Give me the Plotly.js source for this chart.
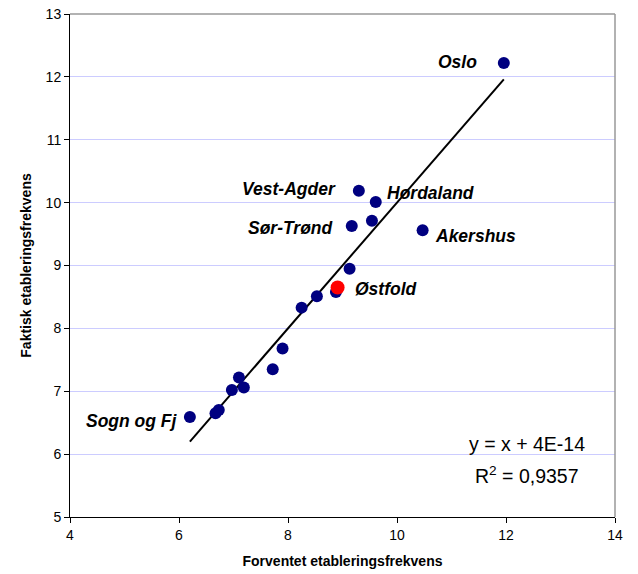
<!DOCTYPE html>
<html>
<head>
<meta charset="utf-8">
<script src="https://cdn.plot.ly/plotly-3.0.1.min.js"></script>
<style>html,body{margin:0;padding:0;background:#fff;}#chart{width:638px;height:574px;}</style>
</head>
<body>
<div id="chart"></div>
<script>
// Expected (x) and actual (y) establishment frequency per county
const expected = [11.96, 9.30, 9.61, 9.17, 9.54, 10.47, 9.13, 8.88, 8.53, 8.25, 7.90, 7.72, 7.10, 7.19, 6.97, 6.73, 6.67, 6.20];
const actual   = [12.22, 10.19, 10.01, 9.63, 9.71, 9.56, 8.95, 8.58, 8.51, 8.33, 7.68, 7.35, 7.22, 7.06, 7.02, 6.70, 6.65, 6.59];
// Highlighted county
const highlightName = "Østfold";
const highlightX = [8.91];
const highlightY = [8.65];
// Trend line: y = x + 4E-14
const slope = 1;
const intercept = 4e-14;
const rSquared = "0,9357";
// Point labels
const labelNames = ["Oslo", "Vest-Agder", "Hordaland", "Sør-Trønd", "Akershus", "Østfold", "Sogn og Fj"];
const labelX =     [11.50, 8.91, 9.78, 8.86, 10.66, 9.19, 6.02];
const labelY =     [12.24, 10.21, 10.16, 9.59, 9.47, 8.62, 6.52];
const labelSide =  ["right", "right", "left", "right", "left", "left", "right"];

const xMin = Math.min(...expected), xMax = Math.max(...expected);
const trendX = [xMin, xMax];
const trendY = trendX.map(v => slope * v + intercept);

const traces = [
  {x: trendX, y: trendY, mode: "lines", line: {color: "#000", width: 2}, hoverinfo: "skip"},
  {x: expected, y: actual, mode: "markers", marker: {color: "#000080", size: 12}},
  {x: highlightX, y: highlightY, mode: "markers", name: highlightName, marker: {color: "#ff0000", size: 14}}
];

const annotations = labelNames.map((t, i) => ({
  x: labelX[i], y: labelY[i], xref: "x", yref: "y", text: "<b><i>" + t + "</i></b>",
  showarrow: false, xanchor: labelSide[i], yanchor: "middle",
  font: {family: "Liberation Sans, Arial, sans-serif", size: 17.5, color: "#000"}
}));
annotations.push({x: 12.39, y: 6.16, xref: "x", yref: "y", showarrow: false,
  text: "y = x + 4E-14", font: {family: "Liberation Sans, Arial, sans-serif", size: 19.5, color: "#000"}});
annotations.push({x: 12.39, y: 5.67, xref: "x", yref: "y", showarrow: false,
  text: "R<sup>2</sup> = " + rSquared, font: {family: "Liberation Sans, Arial, sans-serif", size: 19.5, color: "#000"}});

const layout = {
  width: 638, height: 574,
  margin: {l: 70, r: 23, t: 14, b: 57},
  paper_bgcolor: "#fff", plot_bgcolor: "#fff",
  showlegend: false,
  font: {family: "Liberation Sans, Arial, sans-serif", size: 14, color: "#000"},
  xaxis: {
    range: [4, 14], dtick: 2, tick0: 4, showgrid: false, zeroline: false,
    showline: true, linecolor: "#000", linewidth: 1, mirror: false,
    ticks: "outside", ticklen: 5, tickcolor: "#000",
    tickfont: {size: 14},
    title: {text: "<b>Forventet etableringsfrekvens</b>", font: {size: 14}, standoff: 14}
  },
  yaxis: {
    range: [5, 13], dtick: 1, tick0: 5, showgrid: true, gridcolor: "#ccccff", gridwidth: 1, zeroline: false,
    showline: true, linecolor: "#000", linewidth: 1,
    ticks: "outside", ticklen: 5, tickcolor: "#000",
    tickfont: {size: 14},
    title: {text: "<b>Faktisk etableringsfrekvens</b>", font: {size: 14}, standoff: 10}
  },
  shapes: [
    {type: "line", xref: "paper", yref: "paper", x0: 0, x1: 1, y0: 1, y1: 1, line: {color: "#999", width: 1.5}},
    {type: "line", xref: "paper", yref: "paper", x0: 1, x1: 1, y0: 0, y1: 1, line: {color: "#999", width: 1.5}}
  ],
  annotations: annotations
};

Plotly.newPlot("chart", traces, layout, {displayModeBar: false, staticPlot: true});
</script>
</body>
</html>
